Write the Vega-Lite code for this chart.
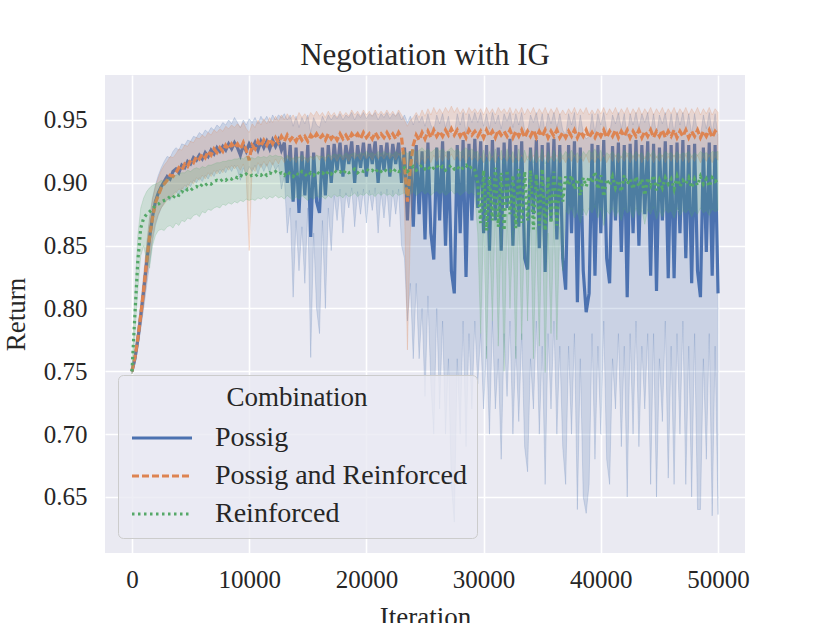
{
  "$schema": "https://vega.github.io/schema/vega-lite/v6.json",
  "description": "Return per iteration for three combinations, mean line with confidence band.",
  "width": 640,
  "height": 478,
  "autosize": "none",
  "padding": {"left": 105, "top": 75, "right": 85, "bottom": 70},
  "background": "white",
  "title": {"text": "Negotiation with IG", "font": "Liberation Serif", "fontSize": 31, "fontWeight": "normal", "color": "#262626", "offset": 3},
  "config": {
    "view": {"fill": "#EAEAF2", "stroke": null},
    "axis": {"domain": false, "ticks": false, "grid": true, "gridColor": "white", "gridWidth": 1.6, "labelFont": "Liberation Serif", "labelFontSize": 25, "labelColor": "#262626", "titleFont": "Liberation Serif", "titleFontSize": 27, "titleFontWeight": "normal", "titleColor": "#262626"}
  },
  "data": {"values": [
    {"i":0,"a":0.750,"al":0.748,"ah":0.752,"b":0.750,"bl":0.748,"bh":0.752,"c":0.750,"cl":0.748,"ch":0.752},
    {"i":250,"a":0.760,"al":0.755,"ah":0.765,"b":0.761,"bl":0.756,"bh":0.766,"c":0.795,"cl":0.780,"ch":0.812},
    {"i":500,"a":0.775,"al":0.768,"ah":0.782,"b":0.776,"bl":0.769,"bh":0.783,"c":0.838,"cl":0.815,"ch":0.858},
    {"i":750,"a":0.794,"al":0.784,"ah":0.803,"b":0.795,"bl":0.785,"bh":0.804,"c":0.864,"cl":0.842,"ch":0.880},
    {"i":1000,"a":0.814,"al":0.800,"ah":0.826,"b":0.815,"bl":0.803,"bh":0.827,"c":0.872,"cl":0.850,"ch":0.888},
    {"i":1250,"a":0.836,"al":0.818,"ah":0.850,"b":0.837,"bl":0.822,"bh":0.851,"c":0.875,"cl":0.838,"ch":0.893},
    {"i":1500,"a":0.856,"al":0.835,"ah":0.872,"b":0.857,"bl":0.840,"bh":0.872,"c":0.877,"cl":0.832,"ch":0.896},
    {"i":1750,"a":0.873,"al":0.853,"ah":0.888,"b":0.872,"bl":0.856,"bh":0.887,"c":0.879,"cl":0.850,"ch":0.898},
    {"i":2000,"a":0.885,"al":0.866,"ah":0.898,"b":0.884,"bl":0.868,"bh":0.897,"c":0.882,"cl":0.858,"ch":0.899},
    {"i":2250,"a":0.892,"al":0.874,"ah":0.906,"b":0.890,"bl":0.875,"bh":0.904,"c":0.883,"cl":0.862,"ch":0.900},
    {"i":2500,"a":0.897,"al":0.880,"ah":0.912,"b":0.896,"bl":0.880,"bh":0.910,"c":0.885,"cl":0.863,"ch":0.902},
    {"i":2750,"a":0.901,"al":0.884,"ah":0.917,"b":0.899,"bl":0.883,"bh":0.914,"c":0.886,"cl":0.862,"ch":0.901},
    {"i":3000,"a":0.905,"al":0.887,"ah":0.921,"b":0.902,"bl":0.886,"bh":0.917,"c":0.887,"cl":0.865,"ch":0.903},
    {"i":3250,"a":0.903,"al":0.886,"ah":0.920,"b":0.906,"bl":0.889,"bh":0.921,"c":0.889,"cl":0.866,"ch":0.904},
    {"i":3500,"a":0.909,"al":0.891,"ah":0.925,"b":0.905,"bl":0.889,"bh":0.920,"c":0.888,"cl":0.864,"ch":0.905},
    {"i":3750,"a":0.911,"al":0.893,"ah":0.928,"b":0.908,"bl":0.892,"bh":0.923,"c":0.891,"cl":0.868,"ch":0.906},
    {"i":4000,"a":0.908,"al":0.890,"ah":0.926,"b":0.912,"bl":0.895,"bh":0.927,"c":0.890,"cl":0.866,"ch":0.907},
    {"i":4250,"a":0.914,"al":0.896,"ah":0.931,"b":0.910,"bl":0.894,"bh":0.926,"c":0.893,"cl":0.870,"ch":0.908},
    {"i":4500,"a":0.912,"al":0.894,"ah":0.930,"b":0.915,"bl":0.898,"bh":0.930,"c":0.892,"cl":0.869,"ch":0.908},
    {"i":4750,"a":0.917,"al":0.899,"ah":0.934,"b":0.913,"bl":0.896,"bh":0.929,"c":0.895,"cl":0.872,"ch":0.910},
    {"i":5000,"a":0.915,"al":0.897,"ah":0.933,"b":0.918,"bl":0.901,"bh":0.933,"c":0.894,"cl":0.871,"ch":0.909},
    {"i":5250,"a":0.920,"al":0.902,"ah":0.937,"b":0.916,"bl":0.899,"bh":0.932,"c":0.896,"cl":0.874,"ch":0.911},
    {"i":5500,"a":0.918,"al":0.900,"ah":0.936,"b":0.921,"bl":0.904,"bh":0.936,"c":0.897,"cl":0.875,"ch":0.912},
    {"i":5750,"a":0.922,"al":0.904,"ah":0.940,"b":0.919,"bl":0.902,"bh":0.935,"c":0.896,"cl":0.873,"ch":0.911},
    {"i":6000,"a":0.919,"al":0.901,"ah":0.938,"b":0.923,"bl":0.906,"bh":0.938,"c":0.899,"cl":0.877,"ch":0.913},
    {"i":6250,"a":0.924,"al":0.906,"ah":0.942,"b":0.920,"bl":0.903,"bh":0.936,"c":0.898,"cl":0.876,"ch":0.912},
    {"i":6500,"a":0.921,"al":0.903,"ah":0.940,"b":0.925,"bl":0.908,"bh":0.940,"c":0.900,"cl":0.879,"ch":0.914},
    {"i":6750,"a":0.926,"al":0.908,"ah":0.944,"b":0.922,"bl":0.905,"bh":0.938,"c":0.899,"cl":0.878,"ch":0.914},
    {"i":7000,"a":0.923,"al":0.905,"ah":0.942,"b":0.927,"bl":0.910,"bh":0.942,"c":0.901,"cl":0.880,"ch":0.915},
    {"i":7250,"a":0.928,"al":0.910,"ah":0.946,"b":0.924,"bl":0.907,"bh":0.940,"c":0.902,"cl":0.881,"ch":0.916},
    {"i":7500,"a":0.925,"al":0.907,"ah":0.944,"b":0.928,"bl":0.911,"bh":0.943,"c":0.901,"cl":0.880,"ch":0.916},
    {"i":7750,"a":0.929,"al":0.911,"ah":0.948,"b":0.925,"bl":0.908,"bh":0.941,"c":0.903,"cl":0.883,"ch":0.917},
    {"i":8000,"a":0.926,"al":0.908,"ah":0.946,"b":0.930,"bl":0.913,"bh":0.945,"c":0.902,"cl":0.882,"ch":0.917},
    {"i":8250,"a":0.931,"al":0.913,"ah":0.950,"b":0.927,"bl":0.910,"bh":0.943,"c":0.904,"cl":0.884,"ch":0.918},
    {"i":8500,"a":0.927,"al":0.909,"ah":0.947,"b":0.931,"bl":0.914,"bh":0.946,"c":0.903,"cl":0.883,"ch":0.918},
    {"i":8750,"a":0.932,"al":0.914,"ah":0.952,"b":0.928,"bl":0.911,"bh":0.944,"c":0.905,"cl":0.885,"ch":0.919},
    {"i":9000,"a":0.928,"al":0.910,"ah":0.948,"b":0.931,"bl":0.914,"bh":0.947,"c":0.904,"cl":0.884,"ch":0.919},
    {"i":9250,"a":0.922,"al":0.902,"ah":0.944,"b":0.927,"bl":0.910,"bh":0.944,"c":0.906,"cl":0.886,"ch":0.920},
    {"i":9500,"a":0.930,"al":0.912,"ah":0.950,"b":0.932,"bl":0.915,"bh":0.948,"c":0.905,"cl":0.885,"ch":0.919},
    {"i":9750,"a":0.925,"al":0.906,"ah":0.946,"b":0.926,"bl":0.905,"bh":0.943,"c":0.907,"cl":0.887,"ch":0.921},
    {"i":10000,"a":0.931,"al":0.913,"ah":0.951,"b":0.918,"bl":0.846,"bh":0.940,"c":0.905,"cl":0.886,"ch":0.920},
    {"i":10250,"a":0.927,"al":0.909,"ah":0.948,"b":0.930,"bl":0.912,"bh":0.947,"c":0.906,"cl":0.887,"ch":0.920},
    {"i":10500,"a":0.932,"al":0.914,"ah":0.952,"b":0.927,"bl":0.909,"bh":0.944,"c":0.905,"cl":0.886,"ch":0.919},
    {"i":10750,"a":0.926,"al":0.907,"ah":0.947,"b":0.933,"bl":0.916,"bh":0.950,"c":0.907,"cl":0.888,"ch":0.921},
    {"i":11000,"a":0.933,"al":0.915,"ah":0.953,"b":0.929,"bl":0.912,"bh":0.946,"c":0.906,"cl":0.887,"ch":0.920},
    {"i":11250,"a":0.928,"al":0.909,"ah":0.949,"b":0.934,"bl":0.917,"bh":0.951,"c":0.908,"cl":0.889,"ch":0.921},
    {"i":11500,"a":0.933,"al":0.915,"ah":0.953,"b":0.930,"bl":0.913,"bh":0.947,"c":0.906,"cl":0.887,"ch":0.920},
    {"i":11750,"a":0.927,"al":0.908,"ah":0.948,"b":0.935,"bl":0.918,"bh":0.952,"c":0.908,"cl":0.889,"ch":0.922},
    {"i":12000,"a":0.934,"al":0.916,"ah":0.954,"b":0.931,"bl":0.914,"bh":0.948,"c":0.907,"cl":0.888,"ch":0.921},
    {"i":12250,"a":0.929,"al":0.910,"ah":0.950,"b":0.936,"bl":0.919,"bh":0.953,"c":0.909,"cl":0.890,"ch":0.922},
    {"i":12500,"a":0.934,"al":0.914,"ah":0.954,"b":0.932,"bl":0.915,"bh":0.949,"c":0.907,"cl":0.888,"ch":0.921},
    {"i":12750,"a":0.926,"al":0.895,"ah":0.952,"b":0.937,"bl":0.920,"bh":0.954,"c":0.908,"cl":0.889,"ch":0.921},
    {"i":13000,"a":0.932,"al":0.905,"ah":0.955,"b":0.933,"bl":0.916,"bh":0.950,"c":0.906,"cl":0.887,"ch":0.919},
    {"i":13250,"a":0.900,"al":0.860,"ah":0.950,"b":0.938,"bl":0.921,"bh":0.955,"c":0.909,"cl":0.890,"ch":0.922},
    {"i":13500,"a":0.930,"al":0.880,"ah":0.954,"b":0.934,"bl":0.917,"bh":0.951,"c":0.907,"cl":0.888,"ch":0.920},
    {"i":13750,"a":0.885,"al":0.809,"ah":0.945,"b":0.937,"bl":0.920,"bh":0.954,"c":0.905,"cl":0.886,"ch":0.919},
    {"i":14000,"a":0.928,"al":0.870,"ah":0.953,"b":0.933,"bl":0.916,"bh":0.950,"c":0.908,"cl":0.889,"ch":0.921},
    {"i":14250,"a":0.876,"al":0.830,"ah":0.944,"b":0.938,"bl":0.921,"bh":0.956,"c":0.906,"cl":0.887,"ch":0.920},
    {"i":14500,"a":0.925,"al":0.865,"ah":0.952,"b":0.934,"bl":0.917,"bh":0.952,"c":0.909,"cl":0.890,"ch":0.922},
    {"i":14750,"a":0.890,"al":0.820,"ah":0.947,"b":0.937,"bl":0.920,"bh":0.955,"c":0.907,"cl":0.888,"ch":0.920},
    {"i":15000,"a":0.930,"al":0.880,"ah":0.954,"b":0.933,"bl":0.916,"bh":0.951,"c":0.905,"cl":0.886,"ch":0.919},
    {"i":15250,"a":0.857,"al":0.761,"ah":0.940,"b":0.938,"bl":0.921,"bh":0.956,"c":0.908,"cl":0.889,"ch":0.921},
    {"i":15500,"a":0.924,"al":0.860,"ah":0.952,"b":0.935,"bl":0.918,"bh":0.953,"c":0.906,"cl":0.887,"ch":0.920},
    {"i":15750,"a":0.885,"al":0.800,"ah":0.946,"b":0.939,"bl":0.922,"bh":0.957,"c":0.909,"cl":0.890,"ch":0.922},
    {"i":16000,"a":0.876,"al":0.780,"ah":0.944,"b":0.935,"bl":0.918,"bh":0.953,"c":0.907,"cl":0.888,"ch":0.921},
    {"i":16250,"a":0.928,"al":0.870,"ah":0.953,"b":0.938,"bl":0.921,"bh":0.956,"c":0.908,"cl":0.889,"ch":0.921},
    {"i":16500,"a":0.890,"al":0.800,"ah":0.948,"b":0.934,"bl":0.917,"bh":0.952,"c":0.906,"cl":0.887,"ch":0.920},
    {"i":16750,"a":0.930,"al":0.880,"ah":0.954,"b":0.939,"bl":0.922,"bh":0.957,"c":0.909,"cl":0.890,"ch":0.923},
    {"i":17000,"a":0.900,"al":0.846,"ah":0.950,"b":0.935,"bl":0.918,"bh":0.953,"c":0.907,"cl":0.888,"ch":0.921},
    {"i":17250,"a":0.931,"al":0.890,"ah":0.954,"b":0.938,"bl":0.921,"bh":0.956,"c":0.910,"cl":0.891,"ch":0.923},
    {"i":17500,"a":0.910,"al":0.870,"ah":0.951,"b":0.934,"bl":0.917,"bh":0.952,"c":0.908,"cl":0.889,"ch":0.922},
    {"i":17750,"a":0.932,"al":0.895,"ah":0.955,"b":0.939,"bl":0.922,"bh":0.957,"c":0.909,"cl":0.890,"ch":0.923},
    {"i":18000,"a":0.905,"al":0.860,"ah":0.950,"b":0.935,"bl":0.918,"bh":0.953,"c":0.907,"cl":0.888,"ch":0.921},
    {"i":18250,"a":0.930,"al":0.892,"ah":0.954,"b":0.938,"bl":0.921,"bh":0.956,"c":0.910,"cl":0.891,"ch":0.924},
    {"i":18500,"a":0.915,"al":0.880,"ah":0.952,"b":0.934,"bl":0.917,"bh":0.953,"c":0.908,"cl":0.889,"ch":0.922},
    {"i":18750,"a":0.933,"al":0.896,"ah":0.956,"b":0.939,"bl":0.922,"bh":0.958,"c":0.909,"cl":0.890,"ch":0.923},
    {"i":19000,"a":0.900,"al":0.865,"ah":0.950,"b":0.936,"bl":0.919,"bh":0.954,"c":0.911,"cl":0.892,"ch":0.924},
    {"i":19250,"a":0.930,"al":0.893,"ah":0.955,"b":0.939,"bl":0.922,"bh":0.957,"c":0.908,"cl":0.889,"ch":0.922},
    {"i":19500,"a":0.912,"al":0.875,"ah":0.952,"b":0.935,"bl":0.918,"bh":0.953,"c":0.910,"cl":0.891,"ch":0.924},
    {"i":19750,"a":0.932,"al":0.895,"ah":0.956,"b":0.940,"bl":0.923,"bh":0.958,"c":0.909,"cl":0.890,"ch":0.923},
    {"i":20000,"a":0.905,"al":0.868,"ah":0.951,"b":0.936,"bl":0.919,"bh":0.954,"c":0.911,"cl":0.892,"ch":0.925},
    {"i":20250,"a":0.931,"al":0.894,"ah":0.955,"b":0.939,"bl":0.922,"bh":0.957,"c":0.909,"cl":0.890,"ch":0.923},
    {"i":20500,"a":0.915,"al":0.878,"ah":0.953,"b":0.935,"bl":0.918,"bh":0.953,"c":0.910,"cl":0.891,"ch":0.924},
    {"i":20750,"a":0.933,"al":0.896,"ah":0.956,"b":0.940,"bl":0.923,"bh":0.958,"c":0.908,"cl":0.889,"ch":0.922},
    {"i":21000,"a":0.900,"al":0.860,"ah":0.950,"b":0.936,"bl":0.919,"bh":0.954,"c":0.911,"cl":0.892,"ch":0.925},
    {"i":21250,"a":0.930,"al":0.893,"ah":0.955,"b":0.939,"bl":0.922,"bh":0.957,"c":0.909,"cl":0.890,"ch":0.923},
    {"i":21500,"a":0.910,"al":0.872,"ah":0.952,"b":0.936,"bl":0.919,"bh":0.954,"c":0.911,"cl":0.892,"ch":0.925},
    {"i":21750,"a":0.932,"al":0.895,"ah":0.956,"b":0.940,"bl":0.923,"bh":0.958,"c":0.909,"cl":0.890,"ch":0.923},
    {"i":22000,"a":0.905,"al":0.865,"ah":0.951,"b":0.936,"bl":0.919,"bh":0.954,"c":0.910,"cl":0.891,"ch":0.924},
    {"i":22250,"a":0.931,"al":0.894,"ah":0.955,"b":0.939,"bl":0.922,"bh":0.957,"c":0.908,"cl":0.889,"ch":0.922},
    {"i":22500,"a":0.915,"al":0.875,"ah":0.953,"b":0.935,"bl":0.918,"bh":0.953,"c":0.911,"cl":0.892,"ch":0.925},
    {"i":22750,"a":0.932,"al":0.895,"ah":0.956,"b":0.940,"bl":0.923,"bh":0.958,"c":0.909,"cl":0.890,"ch":0.923},
    {"i":23000,"a":0.900,"al":0.850,"ah":0.950,"b":0.936,"bl":0.919,"bh":0.954,"c":0.910,"cl":0.891,"ch":0.924},
    {"i":23250,"a":0.928,"al":0.840,"ah":0.954,"b":0.915,"bl":0.880,"bh":0.950,"c":0.912,"cl":0.892,"ch":0.926},
    {"i":23500,"a":0.870,"al":0.790,"ah":0.948,"b":0.885,"bl":0.767,"bh":0.945,"c":0.909,"cl":0.889,"ch":0.923},
    {"i":23750,"a":0.925,"al":0.820,"ah":0.953,"b":0.912,"bl":0.860,"bh":0.950,"c":0.911,"cl":0.891,"ch":0.925},
    {"i":24000,"a":0.865,"al":0.760,"ah":0.946,"b":0.930,"bl":0.905,"bh":0.952,"c":0.913,"cl":0.893,"ch":0.927},
    {"i":24250,"a":0.930,"al":0.820,"ah":0.954,"b":0.938,"bl":0.918,"bh":0.956,"c":0.910,"cl":0.890,"ch":0.924},
    {"i":24500,"a":0.875,"al":0.760,"ah":0.948,"b":0.934,"bl":0.914,"bh":0.952,"c":0.912,"cl":0.892,"ch":0.926},
    {"i":24750,"a":0.925,"al":0.800,"ah":0.953,"b":0.940,"bl":0.920,"bh":0.958,"c":0.914,"cl":0.894,"ch":0.928},
    {"i":25000,"a":0.855,"al":0.730,"ah":0.945,"b":0.935,"bl":0.915,"bh":0.953,"c":0.911,"cl":0.891,"ch":0.925},
    {"i":25250,"a":0.932,"al":0.810,"ah":0.955,"b":0.941,"bl":0.921,"bh":0.959,"c":0.913,"cl":0.893,"ch":0.927},
    {"i":25500,"a":0.860,"al":0.740,"ah":0.946,"b":0.936,"bl":0.916,"bh":0.954,"c":0.910,"cl":0.890,"ch":0.924},
    {"i":25750,"a":0.839,"al":0.700,"ah":0.942,"b":0.942,"bl":0.922,"bh":0.960,"c":0.912,"cl":0.892,"ch":0.926},
    {"i":26000,"a":0.928,"al":0.800,"ah":0.954,"b":0.937,"bl":0.917,"bh":0.955,"c":0.914,"cl":0.894,"ch":0.928},
    {"i":26250,"a":0.870,"al":0.720,"ah":0.947,"b":0.941,"bl":0.921,"bh":0.959,"c":0.911,"cl":0.891,"ch":0.925},
    {"i":26500,"a":0.933,"al":0.790,"ah":0.955,"b":0.937,"bl":0.917,"bh":0.955,"c":0.913,"cl":0.893,"ch":0.927},
    {"i":26750,"a":0.850,"al":0.700,"ah":0.944,"b":0.942,"bl":0.922,"bh":0.960,"c":0.910,"cl":0.890,"ch":0.924},
    {"i":27000,"a":0.925,"al":0.760,"ah":0.953,"b":0.938,"bl":0.918,"bh":0.956,"c":0.912,"cl":0.892,"ch":0.926},
    {"i":27250,"a":0.830,"al":0.660,"ah":0.940,"b":0.943,"bl":0.923,"bh":0.961,"c":0.914,"cl":0.894,"ch":0.928},
    {"i":27500,"a":0.812,"al":0.630,"ah":0.938,"b":0.938,"bl":0.918,"bh":0.956,"c":0.911,"cl":0.891,"ch":0.925},
    {"i":27750,"a":0.930,"al":0.760,"ah":0.955,"b":0.942,"bl":0.922,"bh":0.960,"c":0.913,"cl":0.893,"ch":0.927},
    {"i":28000,"a":0.860,"al":0.700,"ah":0.946,"b":0.937,"bl":0.917,"bh":0.955,"c":0.910,"cl":0.890,"ch":0.924},
    {"i":28250,"a":0.934,"al":0.790,"ah":0.956,"b":0.941,"bl":0.921,"bh":0.959,"c":0.912,"cl":0.892,"ch":0.926},
    {"i":28500,"a":0.825,"al":0.690,"ah":0.940,"b":0.936,"bl":0.916,"bh":0.954,"c":0.914,"cl":0.894,"ch":0.928},
    {"i":28750,"a":0.931,"al":0.780,"ah":0.955,"b":0.942,"bl":0.922,"bh":0.960,"c":0.911,"cl":0.891,"ch":0.925},
    {"i":29000,"a":0.870,"al":0.720,"ah":0.948,"b":0.938,"bl":0.918,"bh":0.956,"c":0.913,"cl":0.893,"ch":0.927},
    {"i":29250,"a":0.935,"al":0.790,"ah":0.956,"b":0.941,"bl":0.921,"bh":0.959,"c":0.910,"cl":0.890,"ch":0.924},
    {"i":29500,"a":0.880,"al":0.740,"ah":0.948,"b":0.937,"bl":0.917,"bh":0.955,"c":0.900,"cl":0.860,"ch":0.925},
    {"i":29750,"a":0.933,"al":0.780,"ah":0.956,"b":0.941,"bl":0.921,"bh":0.959,"c":0.868,"cl":0.780,"ch":0.918},
    {"i":30000,"a":0.860,"al":0.720,"ah":0.945,"b":0.936,"bl":0.916,"bh":0.954,"c":0.910,"cl":0.870,"ch":0.926},
    {"i":30250,"a":0.930,"al":0.770,"ah":0.955,"b":0.942,"bl":0.922,"bh":0.960,"c":0.862,"cl":0.760,"ch":0.915},
    {"i":30500,"a":0.846,"al":0.700,"ah":0.943,"b":0.937,"bl":0.917,"bh":0.955,"c":0.905,"cl":0.860,"ch":0.925},
    {"i":30750,"a":0.934,"al":0.790,"ah":0.956,"b":0.941,"bl":0.921,"bh":0.959,"c":0.870,"cl":0.790,"ch":0.918},
    {"i":31000,"a":0.870,"al":0.720,"ah":0.947,"b":0.936,"bl":0.916,"bh":0.954,"c":0.912,"cl":0.880,"ch":0.927},
    {"i":31250,"a":0.928,"al":0.760,"ah":0.954,"b":0.942,"bl":0.922,"bh":0.960,"c":0.865,"cl":0.770,"ch":0.916},
    {"i":31500,"a":0.846,"al":0.680,"ah":0.943,"b":0.938,"bl":0.918,"bh":0.956,"c":0.908,"cl":0.865,"ch":0.926},
    {"i":31750,"a":0.932,"al":0.780,"ah":0.955,"b":0.941,"bl":0.921,"bh":0.959,"c":0.862,"cl":0.750,"ch":0.915},
    {"i":32000,"a":0.880,"al":0.730,"ah":0.949,"b":0.937,"bl":0.917,"bh":0.955,"c":0.910,"cl":0.875,"ch":0.927},
    {"i":32250,"a":0.935,"al":0.790,"ah":0.956,"b":0.942,"bl":0.922,"bh":0.960,"c":0.875,"cl":0.800,"ch":0.919},
    {"i":32500,"a":0.850,"al":0.700,"ah":0.944,"b":0.936,"bl":0.916,"bh":0.954,"c":0.906,"cl":0.862,"ch":0.925},
    {"i":32750,"a":0.930,"al":0.770,"ah":0.955,"b":0.941,"bl":0.921,"bh":0.959,"c":0.864,"cl":0.760,"ch":0.916},
    {"i":33000,"a":0.865,"al":0.710,"ah":0.946,"b":0.937,"bl":0.917,"bh":0.955,"c":0.911,"cl":0.878,"ch":0.927},
    {"i":33250,"a":0.933,"al":0.780,"ah":0.956,"b":0.942,"bl":0.922,"bh":0.960,"c":0.868,"cl":0.775,"ch":0.917},
    {"i":33500,"a":0.840,"al":0.690,"ah":0.942,"b":0.936,"bl":0.916,"bh":0.954,"c":0.909,"cl":0.870,"ch":0.926},
    {"i":33750,"a":0.831,"al":0.670,"ah":0.940,"b":0.941,"bl":0.921,"bh":0.959,"c":0.870,"cl":0.790,"ch":0.918},
    {"i":34000,"a":0.928,"al":0.760,"ah":0.954,"b":0.937,"bl":0.917,"bh":0.955,"c":0.910,"cl":0.875,"ch":0.927},
    {"i":34250,"a":0.875,"al":0.720,"ah":0.948,"b":0.942,"bl":0.922,"bh":0.960,"c":0.863,"cl":0.760,"ch":0.916},
    {"i":34500,"a":0.934,"al":0.790,"ah":0.956,"b":0.936,"bl":0.916,"bh":0.954,"c":0.907,"cl":0.865,"ch":0.926},
    {"i":34750,"a":0.848,"al":0.700,"ah":0.943,"b":0.941,"bl":0.921,"bh":0.959,"c":0.866,"cl":0.770,"ch":0.917},
    {"i":35000,"a":0.930,"al":0.770,"ah":0.955,"b":0.937,"bl":0.917,"bh":0.955,"c":0.911,"cl":0.878,"ch":0.927},
    {"i":35250,"a":0.829,"al":0.660,"ah":0.940,"b":0.942,"bl":0.922,"bh":0.960,"c":0.862,"cl":0.749,"ch":0.915},
    {"i":35500,"a":0.932,"al":0.780,"ah":0.955,"b":0.936,"bl":0.916,"bh":0.954,"c":0.905,"cl":0.860,"ch":0.925},
    {"i":35750,"a":0.870,"al":0.720,"ah":0.947,"b":0.941,"bl":0.921,"bh":0.959,"c":0.868,"cl":0.780,"ch":0.918},
    {"i":36000,"a":0.935,"al":0.790,"ah":0.956,"b":0.937,"bl":0.917,"bh":0.955,"c":0.909,"cl":0.870,"ch":0.926},
    {"i":36250,"a":0.855,"al":0.700,"ah":0.944,"b":0.942,"bl":0.922,"bh":0.960,"c":0.866,"cl":0.775,"ch":0.917},
    {"i":36500,"a":0.930,"al":0.770,"ah":0.955,"b":0.936,"bl":0.916,"bh":0.954,"c":0.906,"cl":0.865,"ch":0.925},
    {"i":36750,"a":0.840,"al":0.690,"ah":0.942,"b":0.940,"bl":0.920,"bh":0.958,"c":0.885,"cl":0.830,"ch":0.921},
    {"i":37000,"a":0.815,"al":0.660,"ah":0.938,"b":0.936,"bl":0.916,"bh":0.954,"c":0.905,"cl":0.878,"ch":0.925},
    {"i":37250,"a":0.930,"al":0.770,"ah":0.955,"b":0.941,"bl":0.921,"bh":0.959,"c":0.898,"cl":0.875,"ch":0.922},
    {"i":37500,"a":0.860,"al":0.700,"ah":0.946,"b":0.937,"bl":0.917,"bh":0.955,"c":0.906,"cl":0.880,"ch":0.926},
    {"i":37750,"a":0.933,"al":0.780,"ah":0.956,"b":0.942,"bl":0.922,"bh":0.960,"c":0.895,"cl":0.872,"ch":0.921},
    {"i":38000,"a":0.805,"al":0.640,"ah":0.936,"b":0.936,"bl":0.916,"bh":0.954,"c":0.903,"cl":0.878,"ch":0.924},
    {"i":38250,"a":0.928,"al":0.760,"ah":0.954,"b":0.941,"bl":0.921,"bh":0.959,"c":0.890,"cl":0.868,"ch":0.919},
    {"i":38500,"a":0.830,"al":0.650,"ah":0.940,"b":0.937,"bl":0.917,"bh":0.955,"c":0.904,"cl":0.879,"ch":0.925},
    {"i":38750,"a":0.797,"al":0.637,"ah":0.935,"b":0.942,"bl":0.922,"bh":0.960,"c":0.897,"cl":0.874,"ch":0.922},
    {"i":39000,"a":0.812,"al":0.660,"ah":0.937,"b":0.936,"bl":0.916,"bh":0.954,"c":0.905,"cl":0.880,"ch":0.926},
    {"i":39250,"a":0.931,"al":0.780,"ah":0.955,"b":0.940,"bl":0.920,"bh":0.958,"c":0.900,"cl":0.876,"ch":0.923},
    {"i":39500,"a":0.826,"al":0.680,"ah":0.940,"b":0.936,"bl":0.916,"bh":0.954,"c":0.909,"cl":0.882,"ch":0.927},
    {"i":39750,"a":0.930,"al":0.770,"ah":0.955,"b":0.941,"bl":0.921,"bh":0.959,"c":0.895,"cl":0.872,"ch":0.921},
    {"i":40000,"a":0.860,"al":0.700,"ah":0.946,"b":0.937,"bl":0.917,"bh":0.955,"c":0.906,"cl":0.880,"ch":0.926},
    {"i":40250,"a":0.934,"al":0.790,"ah":0.956,"b":0.942,"bl":0.922,"bh":0.960,"c":0.889,"cl":0.866,"ch":0.918},
    {"i":40500,"a":0.840,"al":0.680,"ah":0.942,"b":0.936,"bl":0.916,"bh":0.954,"c":0.903,"cl":0.878,"ch":0.924},
    {"i":40750,"a":0.820,"al":0.660,"ah":0.939,"b":0.941,"bl":0.921,"bh":0.959,"c":0.898,"cl":0.875,"ch":0.922},
    {"i":41000,"a":0.929,"al":0.760,"ah":0.954,"b":0.937,"bl":0.917,"bh":0.955,"c":0.905,"cl":0.880,"ch":0.925},
    {"i":41250,"a":0.870,"al":0.720,"ah":0.947,"b":0.942,"bl":0.922,"bh":0.960,"c":0.896,"cl":0.873,"ch":0.921},
    {"i":41500,"a":0.932,"al":0.780,"ah":0.956,"b":0.936,"bl":0.916,"bh":0.954,"c":0.902,"cl":0.878,"ch":0.924},
    {"i":41750,"a":0.845,"al":0.690,"ah":0.943,"b":0.941,"bl":0.921,"bh":0.959,"c":0.893,"cl":0.870,"ch":0.920},
    {"i":42000,"a":0.930,"al":0.770,"ah":0.955,"b":0.937,"bl":0.917,"bh":0.955,"c":0.906,"cl":0.880,"ch":0.926},
    {"i":42250,"a":0.809,"al":0.650,"ah":0.937,"b":0.942,"bl":0.922,"bh":0.960,"c":0.899,"cl":0.876,"ch":0.923},
    {"i":42500,"a":0.931,"al":0.780,"ah":0.955,"b":0.936,"bl":0.916,"bh":0.954,"c":0.903,"cl":0.878,"ch":0.924},
    {"i":42750,"a":0.860,"al":0.700,"ah":0.946,"b":0.941,"bl":0.921,"bh":0.959,"c":0.895,"cl":0.872,"ch":0.921},
    {"i":43000,"a":0.934,"al":0.790,"ah":0.956,"b":0.937,"bl":0.917,"bh":0.955,"c":0.905,"cl":0.880,"ch":0.925},
    {"i":43250,"a":0.850,"al":0.690,"ah":0.944,"b":0.942,"bl":0.922,"bh":0.960,"c":0.897,"cl":0.874,"ch":0.922},
    {"i":43500,"a":0.930,"al":0.770,"ah":0.955,"b":0.936,"bl":0.916,"bh":0.954,"c":0.903,"cl":0.878,"ch":0.924},
    {"i":43750,"a":0.875,"al":0.720,"ah":0.948,"b":0.941,"bl":0.921,"bh":0.959,"c":0.890,"cl":0.867,"ch":0.919},
    {"i":44000,"a":0.933,"al":0.780,"ah":0.956,"b":0.937,"bl":0.917,"bh":0.955,"c":0.904,"cl":0.879,"ch":0.925},
    {"i":44250,"a":0.826,"al":0.660,"ah":0.940,"b":0.942,"bl":0.922,"bh":0.960,"c":0.898,"cl":0.875,"ch":0.922},
    {"i":44500,"a":0.931,"al":0.780,"ah":0.955,"b":0.936,"bl":0.916,"bh":0.954,"c":0.906,"cl":0.881,"ch":0.926},
    {"i":44750,"a":0.814,"al":0.650,"ah":0.938,"b":0.941,"bl":0.921,"bh":0.959,"c":0.894,"cl":0.871,"ch":0.920},
    {"i":45000,"a":0.928,"al":0.760,"ah":0.954,"b":0.937,"bl":0.917,"bh":0.955,"c":0.902,"cl":0.878,"ch":0.924},
    {"i":45250,"a":0.870,"al":0.710,"ah":0.947,"b":0.942,"bl":0.922,"bh":0.960,"c":0.896,"cl":0.873,"ch":0.921},
    {"i":45500,"a":0.933,"al":0.790,"ah":0.956,"b":0.936,"bl":0.916,"bh":0.954,"c":0.904,"cl":0.879,"ch":0.925},
    {"i":45750,"a":0.824,"al":0.665,"ah":0.940,"b":0.941,"bl":0.921,"bh":0.959,"c":0.899,"cl":0.876,"ch":0.923},
    {"i":46000,"a":0.930,"al":0.770,"ah":0.955,"b":0.937,"bl":0.917,"bh":0.955,"c":0.903,"cl":0.878,"ch":0.924},
    {"i":46250,"a":0.824,"al":0.660,"ah":0.940,"b":0.942,"bl":0.922,"bh":0.960,"c":0.895,"cl":0.872,"ch":0.921},
    {"i":46500,"a":0.932,"al":0.780,"ah":0.956,"b":0.936,"bl":0.916,"bh":0.954,"c":0.905,"cl":0.880,"ch":0.925},
    {"i":46750,"a":0.860,"al":0.700,"ah":0.946,"b":0.941,"bl":0.921,"bh":0.959,"c":0.897,"cl":0.874,"ch":0.922},
    {"i":47000,"a":0.934,"al":0.790,"ah":0.956,"b":0.937,"bl":0.917,"bh":0.955,"c":0.902,"cl":0.878,"ch":0.924},
    {"i":47250,"a":0.840,"al":0.660,"ah":0.942,"b":0.942,"bl":0.922,"bh":0.960,"c":0.899,"cl":0.876,"ch":0.923},
    {"i":47500,"a":0.930,"al":0.770,"ah":0.955,"b":0.936,"bl":0.916,"bh":0.954,"c":0.904,"cl":0.879,"ch":0.925},
    {"i":47750,"a":0.820,"al":0.650,"ah":0.939,"b":0.941,"bl":0.921,"bh":0.959,"c":0.896,"cl":0.873,"ch":0.921},
    {"i":48000,"a":0.931,"al":0.780,"ah":0.955,"b":0.937,"bl":0.917,"bh":0.955,"c":0.903,"cl":0.878,"ch":0.924},
    {"i":48250,"a":0.830,"al":0.640,"ah":0.940,"b":0.942,"bl":0.922,"bh":0.960,"c":0.898,"cl":0.875,"ch":0.922},
    {"i":48500,"a":0.809,"al":0.640,"ah":0.937,"b":0.936,"bl":0.916,"bh":0.954,"c":0.905,"cl":0.880,"ch":0.925},
    {"i":48750,"a":0.928,"al":0.760,"ah":0.954,"b":0.941,"bl":0.921,"bh":0.959,"c":0.899,"cl":0.876,"ch":0.923},
    {"i":49000,"a":0.845,"al":0.680,"ah":0.943,"b":0.937,"bl":0.917,"bh":0.955,"c":0.903,"cl":0.878,"ch":0.924},
    {"i":49250,"a":0.932,"al":0.780,"ah":0.956,"b":0.942,"bl":0.922,"bh":0.960,"c":0.897,"cl":0.874,"ch":0.922},
    {"i":49500,"a":0.826,"al":0.635,"ah":0.940,"b":0.936,"bl":0.916,"bh":0.954,"c":0.904,"cl":0.879,"ch":0.925},
    {"i":49750,"a":0.930,"al":0.770,"ah":0.955,"b":0.941,"bl":0.921,"bh":0.959,"c":0.901,"cl":0.877,"ch":0.924},
    {"i":50000,"a":0.812,"al":0.636,"ah":0.937,"b":0.938,"bl":0.918,"bh":0.956,"c":0.903,"cl":0.878,"ch":0.925}
  ]},
  "encoding": {
    "x": {
      "field": "i", "type": "quantitative",
      "scale": {"domain": [-2300, 52300], "nice": false, "zero": false},
      "axis": {"values": [0, 10000, 20000, 30000, 40000, 50000], "format": "d", "labelPadding": 14, "title": "Iteration", "titlePadding": 12}
    }
  },
  "layer": [
    {
      "mark": {"type": "area", "color": "#4C72B0", "fillOpacity": 0.2, "stroke": "#4C72B0", "strokeOpacity": 0.2, "strokeWidth": 1},
      "encoding": {
        "y": {"field": "al", "type": "quantitative", "scale": {"domain": [0.6054, 0.9858], "nice": false, "zero": false},
          "axis": {"values": [0.65, 0.7, 0.75, 0.8, 0.85, 0.9, 0.95], "format": ".2f", "labelPadding": 18, "title": "Return", "titlePadding": 13}},
        "y2": {"field": "ah"}
      }
    },
    {
      "mark": {"type": "line", "strokeWidth": 3.2},
      "encoding": {
        "y": {"field": "a", "type": "quantitative"},
        "color": {"datum": "Possig", "type": "nominal", "title": "Combination"},
        "strokeDash": {"datum": "Possig", "type": "nominal", "title": "Combination"}
      }
    },
    {
      "mark": {"type": "area", "color": "#DD8452", "fillOpacity": 0.2, "stroke": "#DD8452", "strokeOpacity": 0.2, "strokeWidth": 1},
      "encoding": {"y": {"field": "bl", "type": "quantitative"}, "y2": {"field": "bh"}}
    },
    {
      "mark": {"type": "line", "strokeWidth": 3.2},
      "encoding": {
        "y": {"field": "b", "type": "quantitative"},
        "color": {"datum": "Possig and Reinforced", "type": "nominal", "title": "Combination"},
        "strokeDash": {"datum": "Possig and Reinforced", "type": "nominal", "title": "Combination"}
      }
    },
    {
      "mark": {"type": "area", "color": "#55A868", "fillOpacity": 0.2, "stroke": "#55A868", "strokeOpacity": 0.2, "strokeWidth": 1},
      "encoding": {"y": {"field": "cl", "type": "quantitative"}, "y2": {"field": "ch"}}
    },
    {
      "mark": {"type": "line", "strokeWidth": 3.2},
      "encoding": {
        "y": {"field": "c", "type": "quantitative"},
        "color": {
          "datum": "Reinforced", "type": "nominal", "title": "Combination",
          "scale": {"domain": ["Possig", "Possig and Reinforced", "Reinforced"], "range": ["#4C72B0", "#DD8452", "#55A868"]},
          "legend": {
            "orient": "none", "legendX": 13, "legendY": 300,
            "titleFont": "Liberation Serif", "titleFontSize": 27, "titleFontWeight": "normal", "titleColor": "#262626",
            "titleAnchor": "middle", "titlePadding": 12,
            "labelFont": "Liberation Serif", "labelFontSize": 28, "labelColor": "#262626", "labelLimit": 500,
            "symbolType": "M-1,0H5", "symbolSize": 400, "symbolStrokeWidth": 2.8, "labelOffset": 59,
            "rowPadding": 10, "padding": 10,
            "fillColor": "rgba(234,234,242,0.8)", "strokeColor": "#CCCCCC", "cornerRadius": 5
          }
        },
        "strokeDash": {
          "datum": "Reinforced", "type": "nominal", "title": "Combination",
          "scale": {"domain": ["Possig", "Possig and Reinforced", "Reinforced"], "range": [[1, 0], [7, 3], [2.5, 3.5]]}
        }
      }
    }
  ]
}
